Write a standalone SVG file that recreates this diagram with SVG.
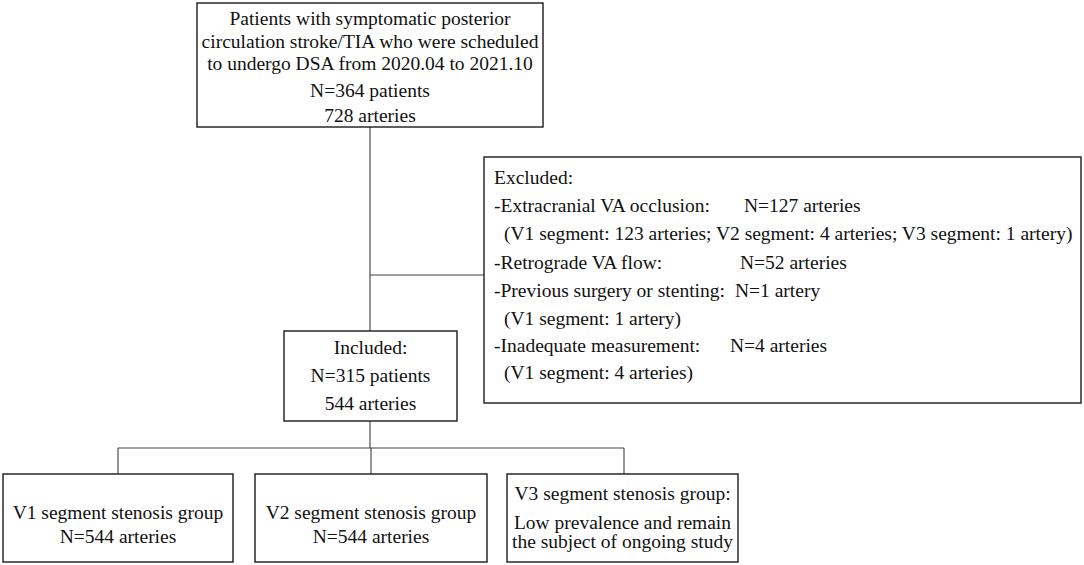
<svg xmlns="http://www.w3.org/2000/svg" width="1084" height="565" viewBox="0 0 1084 565">
<style>
.box{fill:#fff;stroke:#1a1a1a;stroke-width:1.4}
.ln{fill:none;stroke:#404040;stroke-width:1.1}
text{font-family:"Liberation Serif","Times New Roman",serif;font-size:19.5px;fill:#111}
.c{text-anchor:middle}
</style>
<rect width="1084" height="565" fill="#fff"/>
<g id="connectors">
<path class="ln" d="M370,127 V331 M370,275 H484 M370,421 V448 M118,448 H624 M118,448 V474 M371,448 V474 M624,448 V474"/>
</g>
<g id="top">
<rect class="box" x="197" y="3" width="346" height="124"/>
<text class="c" x="370" y="25">Patients with symptomatic posterior</text>
<text class="c" x="370" y="48">circulation stroke/TIA who were scheduled</text>
<text class="c" x="370" y="70">to undergo DSA from 2020.04 to 2021.10</text>
<text class="c" x="370" y="97">N=364 patients</text>
<text class="c" x="370" y="122">728 arteries</text>
</g>
<g id="excluded">
<rect class="box" x="484" y="157" width="597" height="246"/>
<text x="494" y="184">Excluded:</text>
<text x="494" y="212">-Extracranial VA occlusion:</text>
<text x="744" y="212">N=127 arteries</text>
<text x="504" y="240">(V1 segment: 123 arteries; V2 segment: 4 arteries; V3 segment: 1 artery)</text>
<text x="494" y="268.5">-Retrograde VA flow:</text>
<text x="740" y="268.5">N=52 arteries</text>
<text x="494" y="297">-Previous surgery or stenting:</text>
<text x="735" y="297">N=1 artery</text>
<text x="504" y="324.5">(V1 segment: 1 artery)</text>
<text x="494" y="352">-Inadequate measurement:</text>
<text x="730" y="352">N=4 arteries</text>
<text x="504" y="379">(V1 segment: 4 arteries)</text>
</g>
<g id="included">
<rect class="box" x="284" y="331" width="173" height="90"/>
<text class="c" x="370.5" y="354">Included:</text>
<text class="c" x="370.5" y="382">N=315 patients</text>
<text class="c" x="370.5" y="410">544 arteries</text>
</g>
<g id="v1">
<rect class="box" x="3" y="474" width="230" height="88"/>
<text class="c" x="118" y="519">V1 segment stenosis group</text>
<text class="c" x="118" y="543">N=544 arteries</text>
</g>
<g id="v2">
<rect class="box" x="255" y="474" width="232" height="88"/>
<text class="c" x="371" y="519">V2 segment stenosis group</text>
<text class="c" x="371" y="543">N=544 arteries</text>
</g>
<g id="v3">
<rect class="box" x="507" y="474" width="231" height="88"/>
<text class="c" x="622.5" y="500">V3 segment stenosis group:</text>
<text class="c" x="622.5" y="529">Low prevalence and remain</text>
<text class="c" x="622.5" y="548">the subject of ongoing study</text>
</g>
</svg>
